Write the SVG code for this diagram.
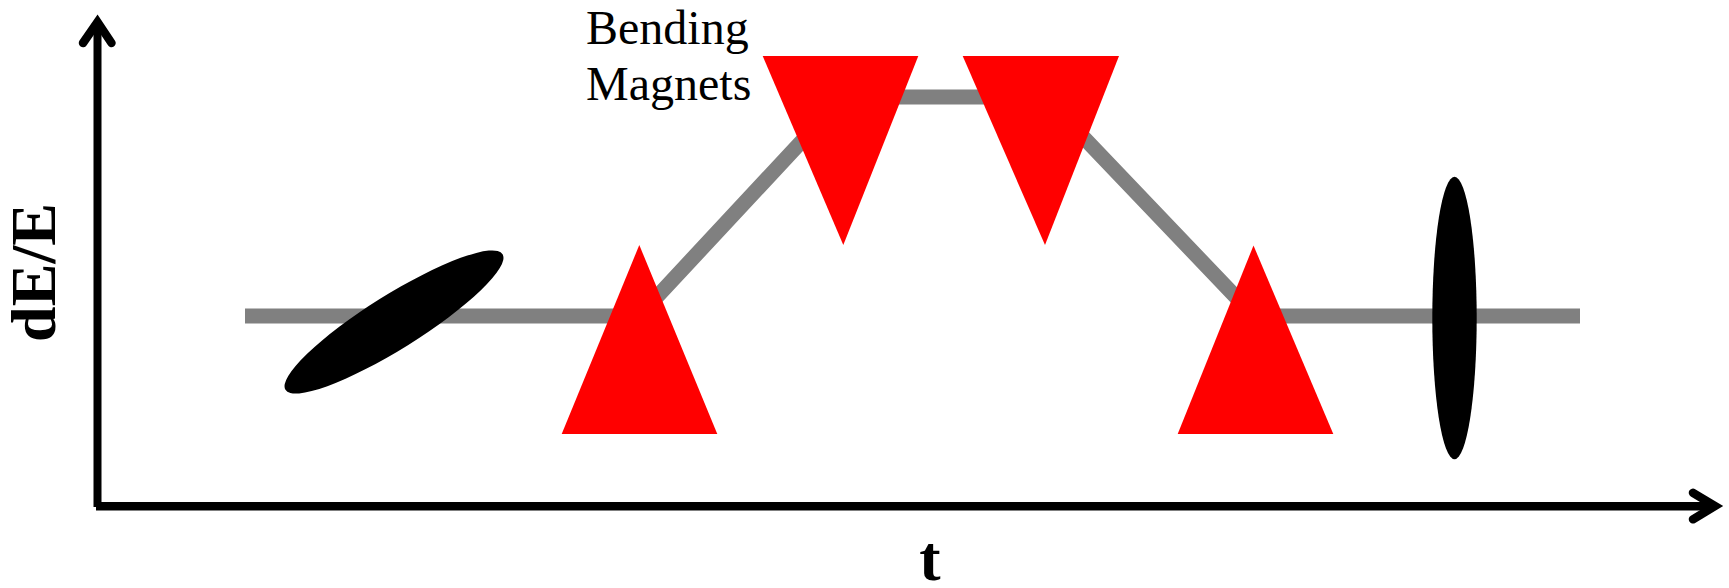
<svg xmlns="http://www.w3.org/2000/svg" width="1729" height="588" viewBox="0 0 1729 588">
  <style>
    .axis { stroke: #000; stroke-width: 8; fill: none; }
    .head { stroke: #000; stroke-width: 8.5; fill: none; stroke-linecap: round; stroke-linejoin: miter; stroke-miterlimit: 10; }
    .beam { stroke: #808080; stroke-width: 15; fill: none; stroke-linejoin: miter; }
    .magnet { fill: #ff0000; }
    .bunch { fill: #000; }
    .lbl { font-family: "Liberation Serif", "Times New Roman", serif; fill: #000; }
    .axlbl { font-family: "Liberation Serif", "Times New Roman", serif; font-weight: bold; fill: #000; }
  </style>
  <rect width="1729" height="588" fill="#fff"/>
  <g id="connectors">
    <path id="beam-path" class="beam" d="M 245 316 L 639 316 L 843 97 L 1045 97 L 1254 316 L 1580 316"/>
  </g>
  <g id="axes">
    <line class="axis" x1="97.5" y1="24" x2="97.5" y2="507"/>
    <polyline class="head" points="83,43 97.5,22 111.5,43"/>
    <line class="axis" x1="96" y1="506.3" x2="1714" y2="506.3" style="stroke-width:8.5"/>
    <polyline class="head" points="1693,492.8 1715,506 1693,519.3"/>
  </g>
  <g id="bunch-in">
    <ellipse class="bunch" cx="394" cy="322" rx="128" ry="27" transform="rotate(-32 394 322)"/>
  </g>
  <g id="bunch-out">
    <ellipse class="bunch" cx="1454.5" cy="318" rx="22.2" ry="141.3"/>
  </g>
  <g id="magnet1">
    <polygon class="magnet" points="639.3,245 717.3,434 561.7,434"/>
  </g>
  <g id="magnet2">
    <polygon class="magnet" points="762.7,56 918.3,56 843.3,245"/>
  </g>
  <g id="magnet3">
    <polygon class="magnet" points="962.7,56 1119,56 1045,245"/>
  </g>
  <g id="magnet4">
    <polygon class="magnet" points="1253.5,245.5 1333.3,434 1177.7,434"/>
  </g>
  <g id="label-magnets">
    <text class="lbl" x="586" y="44" font-size="48">Bending</text>
    <text class="lbl" x="586" y="100" font-size="48">Magnets</text>
  </g>
  <g id="label-y">
    <text class="axlbl" font-size="64" text-anchor="middle" transform="translate(55 272.5) rotate(-90)">dE/E</text>
  </g>
  <g id="label-x">
    <text class="axlbl" x="930" y="580" font-size="64" text-anchor="middle">t</text>
  </g>
</svg>
